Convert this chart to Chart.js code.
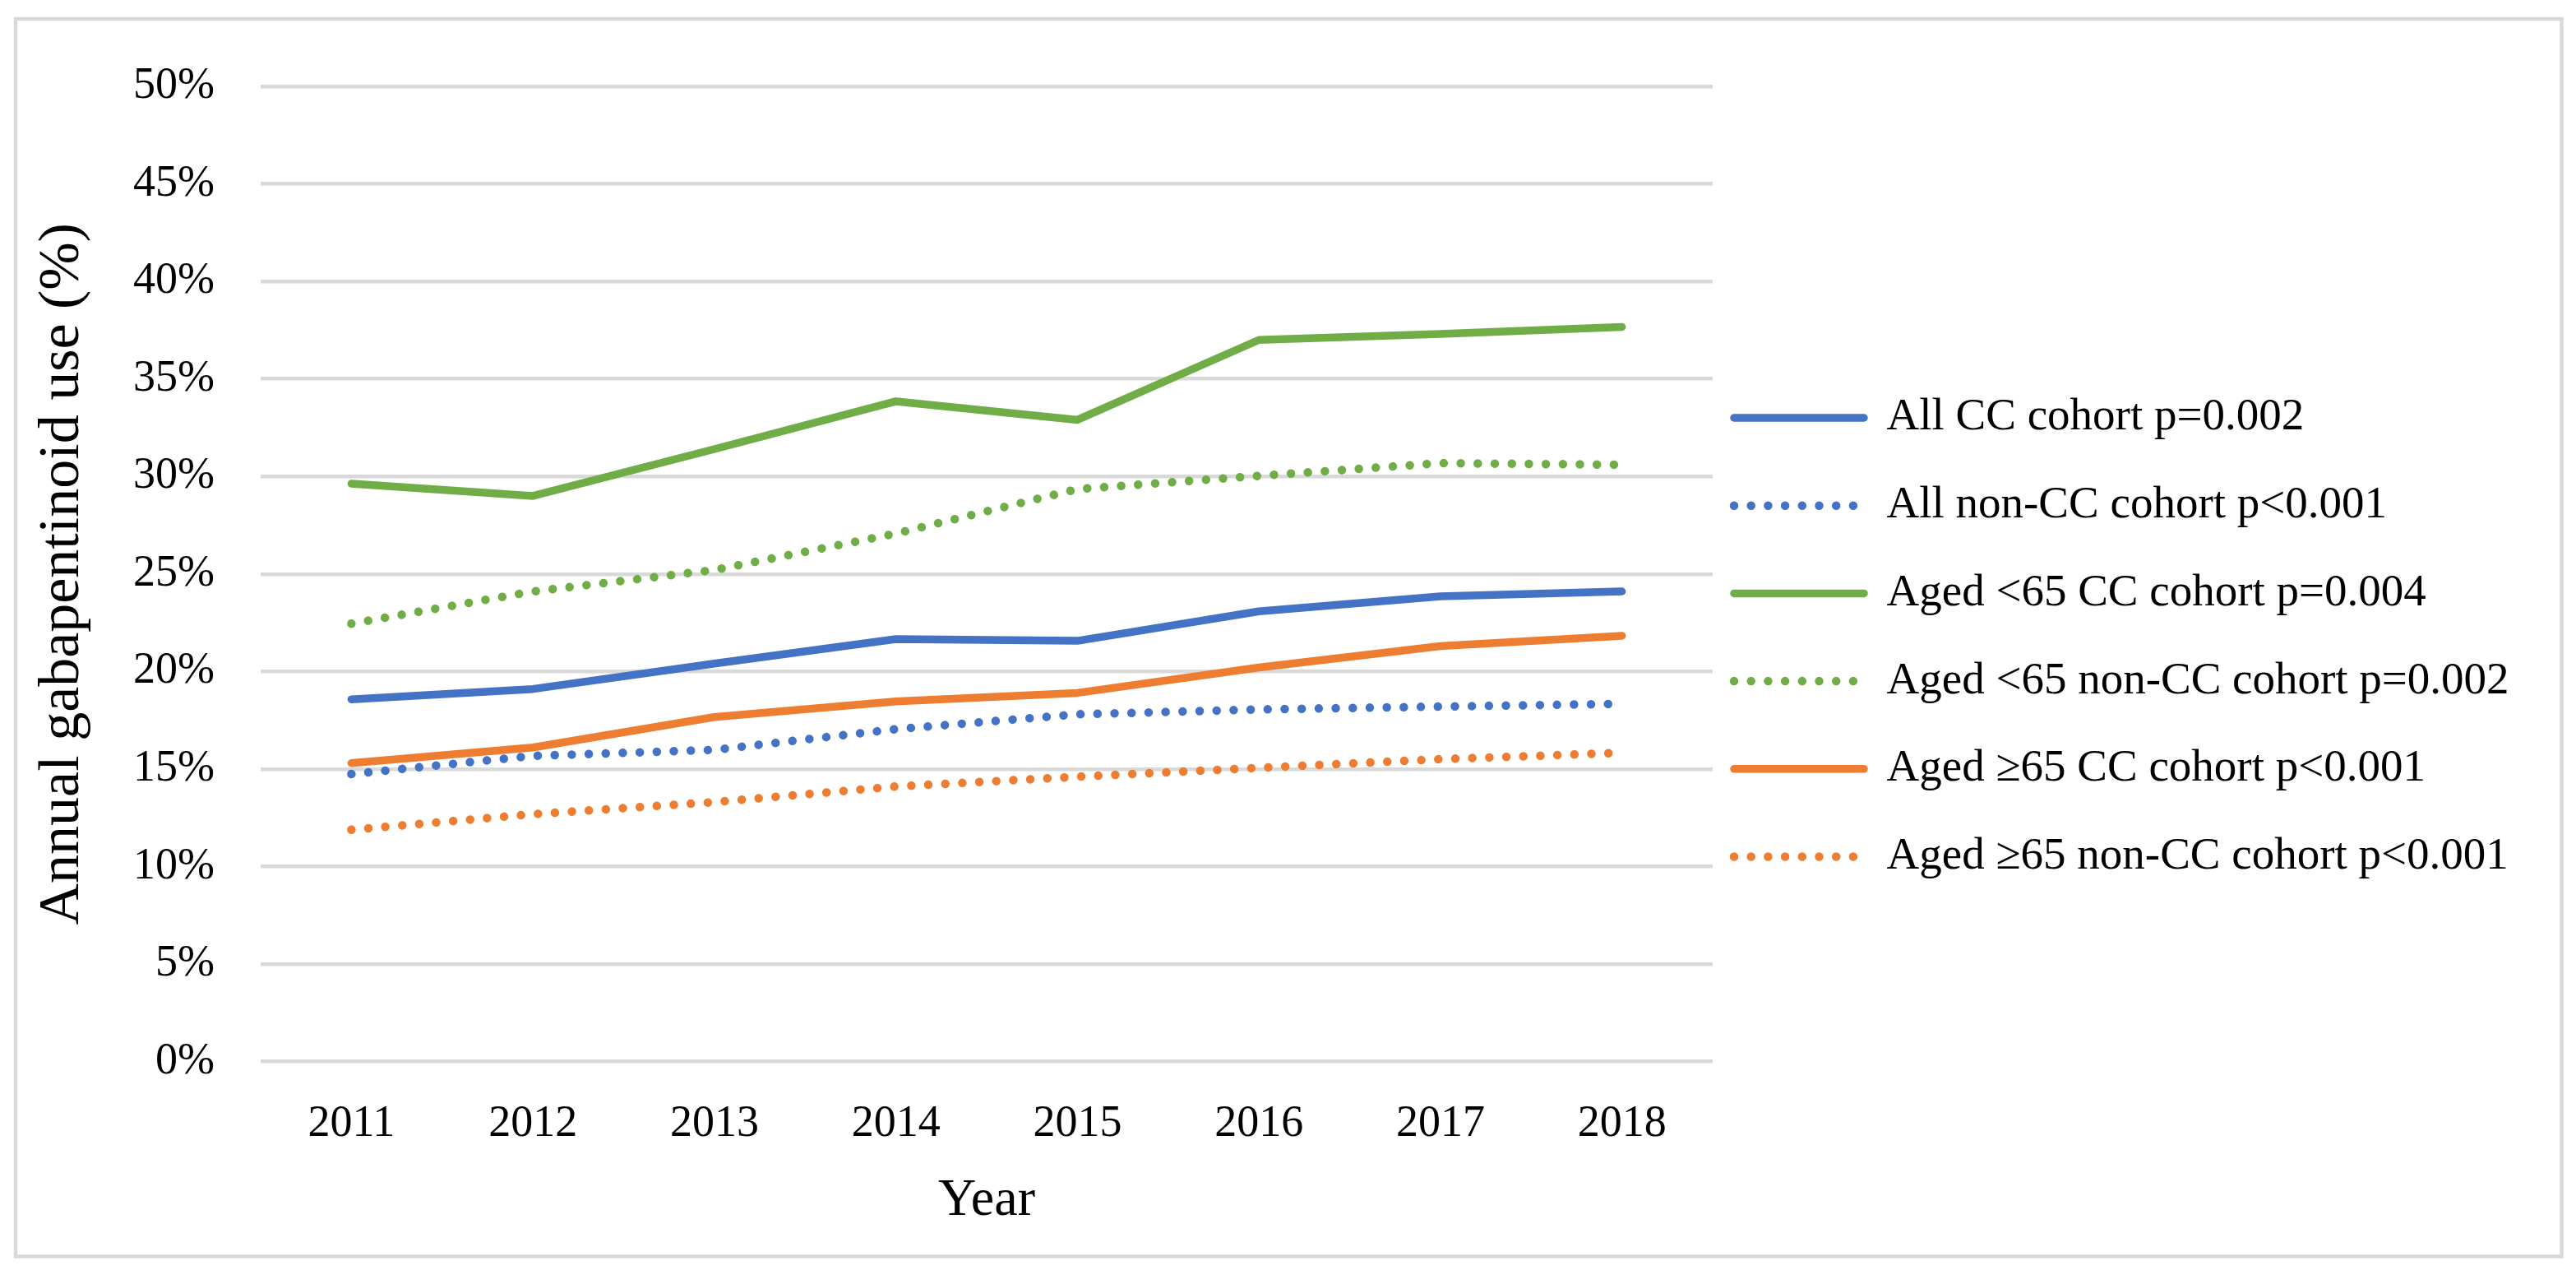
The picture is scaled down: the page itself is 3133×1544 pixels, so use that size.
<!DOCTYPE html>
<html>
<head>
<meta charset="utf-8">
<script src="https://cdn.jsdelivr.net/npm/chart.js@4.4.1/dist/chart.umd.min.js"></script>
<style>
html,body{margin:0;padding:0;background:#fff;}
canvas{display:block;}
</style>
</head>
<body>
<canvas id="c" width="3133" height="1544"></canvas>
<script>
// ---- data (percent) ----
const years = ['2011','2012','2013','2014','2015','2016','2017','2018'];
const allCC        = [18.57, 19.10, 20.40, 21.66, 21.57, 23.08, 23.85, 24.10];
const allNonCC     = [14.74, 15.67, 15.98, 17.04, 17.80, 18.05, 18.20, 18.34];
const under65CC    = [29.63, 29.00, 31.40, 33.85, 32.90, 37.00, 37.30, 37.66];
const under65NonCC = [22.45, 24.10, 25.20, 27.07, 29.35, 30.03, 30.68, 30.60];
const over65CC     = [15.30, 16.10, 17.66, 18.46, 18.90, 20.20, 21.30, 21.83];
const over65NonCC  = [11.88, 12.68, 13.30, 14.10, 14.60, 15.06, 15.50, 15.83];
const seriesLabels = [
  'All CC cohort p=0.002',
  'All non-CC cohort p<0.001',
  'Aged <65 CC cohort p=0.004',
  'Aged <65 non-CC cohort p=0.002',
  'Aged \u226565 CC cohort p<0.001',
  'Aged \u226565 non-CC cohort p<0.001'
];
const yAxisTitle = 'Annual gabapentinoid use (%)';
const xAxisTitle = 'Year';

// ---- styles ----
const BLUE = '#4472C4', GREEN = '#70AD47', ORANGE = '#ED7D31';
const DOT = [0.001, 20.7];
Chart.defaults.font.family = "'Liberation Serif', 'Times New Roman', serif";
Chart.defaults.color = '#000';

function ds(label, data, color, dotted) {
  return {
    label, data,
    borderColor: color, backgroundColor: color,
    borderWidth: dotted ? 10.5 : 9.5,
    borderDash: dotted ? DOT : [],
    borderCapStyle: 'round',
    borderJoinStyle: 'round',
    pointRadius: 0, pointHoverRadius: 0,
    tension: 0, fill: false
  };
}

const frame = {
  id: 'frame',
  beforeDraw(chart) {
    const ctx = chart.ctx;
    ctx.save();
    ctx.fillStyle = '#fff';
    ctx.fillRect(0, 0, chart.width, chart.height);
    ctx.strokeStyle = '#d9d9d9';
    ctx.lineWidth = 4.5;
    ctx.strokeRect(19, 23, 3096.5, 1504.5);
    ctx.restore();
  }
};

const legendShift = {
  id: 'legendShift',
  afterLayout(chart) {
    const lg = chart.legend;
    if (!lg) return;
    const dx = -25.7, dy = -27.25;
    lg.left += dx; lg.right += dx;
    lg.top += dy; lg.bottom += dy;
  }
};

new Chart(document.getElementById('c'), {
  type: 'line',
  data: {
    labels: years,
    datasets: [
      ds(seriesLabels[0], allCC, BLUE, false),
      ds(seriesLabels[1], allNonCC, BLUE, true),
      ds(seriesLabels[2], under65CC, GREEN, false),
      ds(seriesLabels[3], under65NonCC, GREEN, true),
      ds(seriesLabels[4], over65CC, ORANGE, false),
      ds(seriesLabels[5], over65NonCC, ORANGE, true)
    ]
  },
  options: {
    responsive: false,
    animation: false,
    devicePixelRatio: 1,
    events: [],
    layout: { padding: { left: 0, top: 105, right: 57, bottom: 45 } },
    plugins: {
      tooltip: { enabled: false },
      legend: {
        position: 'right',
        align: 'center',
        maxWidth: 993,
        labels: {
          font: { size: 55 },
          color: '#000',
          padding: 51.7,
          usePointStyle: true,
          pointStyle: 'line',
          pointStyleWidth: 158,
          generateLabels(chart) {
            return chart.data.datasets.map((d, i) => ({
              text: d.label,
              fillStyle: d.borderColor,
              strokeStyle: d.borderColor,
              fontColor: '#000',
              lineWidth: d.borderWidth,
              lineDash: d.borderDash,
              lineDashOffset: 0,
              lineCap: 'round',
              lineJoin: 'round',
              pointStyle: 'line',
              hidden: false,
              datasetIndex: i
            }));
          }
        }
      }
    },
    scales: {
      x: {
        offset: true,
        grid: { display: false, drawTicks: false },
        border: { display: false },
        ticks: { font: { size: 54 }, color: '#000', padding: 44, maxRotation: 0 },
        title: { display: true, text: xAxisTitle, font: { size: 64 }, color: '#000', padding: { top: 0, bottom: 0 } },
        afterFit(s) { s.height = 208.5; }
      },
      y: {
        min: 0, max: 50,
        ticks: { stepSize: 5, callback: v => v + '%', font: { size: 54 }, color: '#000', padding: 56 },
        grid: { color: '#d9d9d9', lineWidth: 4.5, drawTicks: false },
        border: { display: false },
        title: { display: true, text: yAxisTitle, font: { size: 70 }, color: '#000', padding: { top: 35, bottom: 0 } },
        afterFit(s) { s.width = 317; }
      }
    }
  },
  plugins: [frame, legendShift]
});
</script>
</body>
</html>
